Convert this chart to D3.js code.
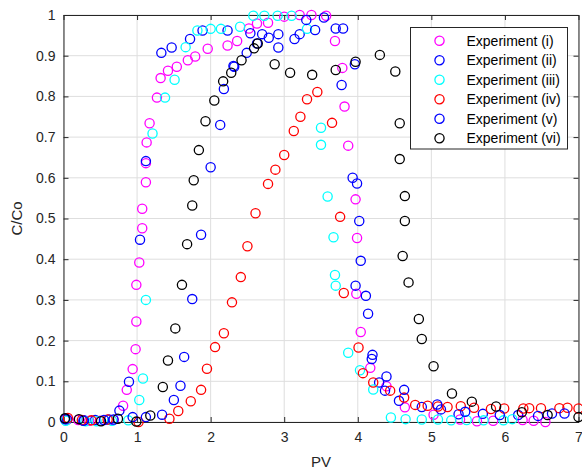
<!DOCTYPE html>
<html>
<head>
<meta charset="utf-8">
<script src="https://cdn.jsdelivr.net/npm/d3@7"></script>
<style>
  html, body { margin: 0; padding: 0; background: #fff; }
  svg { display: block; font-family: "Liberation Sans", Arial, Helvetica, sans-serif; }
</style>
</head>
<body>
<svg id="chart" width="582" height="470"></svg>
<script>
// Breakthrough / elution curves: C/Co against pore volumes (PV)
const xTicks = [0, 1, 2, 3, 4, 5, 6, 7];
const yTicks = [0, 0.1, 0.2, 0.3, 0.4, 0.5, 0.6, 0.7, 0.8, 0.9, 1];
const yTickLabels = ["0", "0.1", "0.2", "0.3", "0.4", "0.5", "0.6", "0.7", "0.8", "0.9", "1"];

const seriesNames = ["Experiment (i)", "Experiment (ii)", "Experiment (iii)",
                     "Experiment (iv)", "Experiment (v)", "Experiment (vi)"];
const seriesColors = ["#ff00ff", "#0000ff", "#00ffff", "#ff0000", "#0000ff", "#000000"];

// each point: [PV, C/Co]
const expI = [
  [0.04, 0.008], [0.2, 0.005], [0.35, 0.003], [0.5, 0.003], [0.68, 0.005],
  [0.81, 0.040], [0.86, 0.079], [0.94, 0.130], [0.98, 0.179], [0.99, 0.247],
  [0.99, 0.337], [1.03, 0.392], [1.07, 0.476], [1.07, 0.524], [1.12, 0.589],
  [1.12, 0.636], [1.13, 0.687], [1.17, 0.734], [1.27, 0.797], [1.32, 0.845],
  [1.42, 0.863], [1.54, 0.873], [1.69, 0.889], [1.79, 0.898], [1.96, 0.917],
  [2.23, 0.925], [2.36, 0.936], [2.52, 0.967], [2.63, 0.979], [2.78, 0.981],
  [3.00, 0.996], [3.21, 1.0], [3.37, 1.0], [3.57, 0.998], [3.69, 0.936],
  [3.79, 0.870], [3.82, 0.775], [3.87, 0.679], [3.97, 0.547], [3.99, 0.452],
  [3.98, 0.315], [4.04, 0.221], [4.17, 0.133], [4.39, 0.088], [4.64, 0.036],
  [5.03, 0.018], [5.39, 0.006], [5.62, 0.002], [5.84, 0.003], [6.24, 0.005],
  [6.39, 0.003], [6.55, 0.0]
];
const expII = [
  [0.05, 0.006], [0.28, 0.004], [0.43, 0.005], [0.62, 0.006],
  [0.76, 0.028], [0.89, 0.099], [1.04, 0.448], [1.12, 0.641], [1.33, 0.907],
  [1.47, 0.920], [1.72, 0.941], [1.89, 0.962], [2.23, 0.962], [2.54, 0.955],
  [2.70, 0.953], [2.92, 0.953], [3.21, 0.953], [3.54, 0.994], [3.80, 0.967],
  [3.78, 0.828], [3.93, 0.600], [4.02, 0.494], [3.97, 0.335], [4.14, 0.266],
  [4.19, 0.155], [4.29, 0.097], [4.37, 0.077], [4.56, 0.052], [4.87, 0.037],
  [5.13, 0.031], [5.37, 0.019], [5.70, 0.020], [6.18, 0.017], [6.64, 0.021]
];
const expIII = [
  [0.03, 0.003], [0.3, 0.002], [0.45, 0.002], [0.66, 0.003], [0.88, 0.004],
  [1.03, 0.054], [1.08, 0.107], [1.12, 0.300], [1.21, 0.709], [1.38, 0.797],
  [1.51, 0.841], [1.66, 0.921], [1.82, 0.962], [2.00, 0.966], [2.14, 0.966],
  [2.40, 0.971], [2.58, 0.998], [2.73, 0.998], [2.91, 0.998], [3.10, 0.998],
  [3.31, 0.966], [3.50, 0.723], [3.50, 0.681], [3.59, 0.554], [3.67, 0.454],
  [3.69, 0.361], [3.70, 0.335], [3.87, 0.170], [4.03, 0.127], [4.21, 0.080],
  [4.45, 0.011], [4.65, 0.007], [4.87, 0.006], [5.09, 0.006], [5.27, 0.004],
  [5.48, 0.005], [5.71, 0.004], [5.98, 0.004], [6.10, 0.007]
];
const expIV = [
  [0.06, 0.010], [0.25, 0.005], [0.38, 0.004], [0.6, 0.006], [1.02, 0.0],
  [1.44, 0.008], [1.56, 0.027], [1.73, 0.051], [1.87, 0.079], [1.95, 0.131],
  [2.06, 0.184], [2.18, 0.218], [2.29, 0.294], [2.41, 0.356], [2.50, 0.432],
  [2.61, 0.513], [2.78, 0.585], [2.88, 0.620], [3.00, 0.656], [3.13, 0.715],
  [3.22, 0.750], [3.31, 0.793], [3.45, 0.811], [3.65, 0.735], [3.76, 0.504],
  [3.81, 0.317], [4.01, 0.183], [4.07, 0.120], [4.21, 0.097], [4.44, 0.077],
  [4.63, 0.060], [4.78, 0.042], [4.95, 0.040], [5.09, 0.038], [5.22, 0.037],
  [5.40, 0.039], [5.58, 0.035], [5.81, 0.032], [5.99, 0.033], [6.25, 0.033],
  [6.33, 0.034], [6.49, 0.034], [6.74, 0.034], [6.85, 0.035], [7.0, 0.033]
];
const expV = [
  [0.02, 0.007], [0.27, 0.003], [0.55, 0.005], [0.68, 0.006], [0.94, 0.012],
  [1.12, 0.012], [1.34, 0.018], [1.50, 0.054], [1.59, 0.089], [1.64, 0.160],
  [1.75, 0.302], [1.87, 0.460], [2.00, 0.626], [2.13, 0.730], [2.18, 0.818],
  [2.31, 0.875], [2.32, 0.873], [2.49, 0.907], [2.63, 0.930], [2.79, 0.944],
  [2.92, 0.920], [3.14, 0.941], [3.30, 0.988], [3.42, 0.963], [3.70, 0.967],
  [3.96, 0.879], [3.99, 0.586], [4.04, 0.396], [4.11, 0.310], [4.20, 0.165],
  [4.39, 0.112], [4.63, 0.079], [5.08, 0.043], [5.46, 0.025], [5.93, 0.017],
  [6.45, 0.015], [6.81, 0.021]
];
const expVI = [
  [0.02, 0.009], [0.21, 0.007], [0.51, 0.002], [0.74, 0.008], [0.99, 0.001],
  [1.18, 0.016], [1.35, 0.086], [1.42, 0.151], [1.52, 0.230], [1.61, 0.337],
  [1.68, 0.437], [1.75, 0.532], [1.77, 0.594], [1.84, 0.668], [1.93, 0.739],
  [2.05, 0.790], [2.17, 0.837], [2.28, 0.858], [2.42, 0.889], [2.59, 0.918],
  [2.64, 0.930], [2.87, 0.879], [3.08, 0.858], [3.38, 0.853], [3.70, 0.865],
  [3.97, 0.885], [4.30, 0.902], [4.51, 0.861], [4.57, 0.734], [4.57, 0.646],
  [4.64, 0.555], [4.64, 0.494], [4.61, 0.408], [4.69, 0.343], [4.83, 0.253],
  [4.87, 0.204], [5.03, 0.137], [5.28, 0.070], [5.55, 0.050], [5.88, 0.038],
  [6.23, 0.024], [6.58, 0.017], [7.0, 0.012]
];
const seriesData = [expI, expII, expIII, expIV, expV, expVI];

const svg = d3.select("#chart");
const plotLeft = 63.5, plotRight = 578.5, plotTop = 15, plotBottom = 422;
const x = d3.scaleLinear().domain([0, 7]).range([plotLeft, plotRight]);
const y = d3.scaleLinear().domain([0, 1]).range([plotBottom, plotTop]);
const axisColor = "#262626";

// grid
const grid = svg.append("g");
grid.selectAll("line.gx").data(xTicks).join("line")
  .attr("x1", d => x(d)).attr("x2", d => x(d))
  .attr("y1", plotTop).attr("y2", plotBottom)
  .attr("stroke", "#dedede").attr("stroke-width", 1);
grid.selectAll("line.gy").data(yTicks).join("line")
  .attr("x1", plotLeft).attr("x2", plotRight)
  .attr("y1", d => y(d)).attr("y2", d => y(d))
  .attr("stroke", "#dedede").attr("stroke-width", 1);

// axes with inward ticks on all four sides
function styleAxis(g) {
  g.select(".domain").attr("stroke", axisColor).attr("stroke-width", 1);
  g.selectAll(".tick line").attr("stroke", axisColor).attr("stroke-width", 1);
  g.selectAll(".tick text").attr("fill", axisColor)
    .attr("font-size", 14).attr("font-family", "Liberation Sans, Arial, sans-serif");
}
svg.append("g").attr("transform", `translate(0,${plotBottom})`)
  .call(d3.axisBottom(x).tickValues(xTicks).tickFormat(d => String(d))
    .tickSize(-5).tickPadding(10).tickSizeOuter(0))
  .call(styleAxis);
svg.append("g").attr("transform", `translate(0,${plotTop})`)
  .call(d3.axisTop(x).tickValues(xTicks).tickFormat("").tickSize(-5).tickSizeOuter(0))
  .call(styleAxis);
svg.append("g").attr("transform", `translate(${plotLeft},0)`)
  .call(d3.axisLeft(y).tickValues(yTicks).tickFormat((d, i) => yTickLabels[i])
    .tickSize(-5).tickPadding(8).tickSizeOuter(0))
  .call(styleAxis);
svg.append("g").attr("transform", `translate(${plotRight},0)`)
  .call(d3.axisRight(y).tickValues(yTicks).tickFormat("").tickSize(-5).tickSizeOuter(0))
  .call(styleAxis);

// markers
const plot = svg.append("g");
seriesData.forEach((pts, i) => {
  plot.append("g").selectAll("circle").data(pts).join("circle")
    .attr("cx", d => x(d[0])).attr("cy", d => y(d[1])).attr("r", 4.6)
    .attr("fill", "none").attr("stroke", seriesColors[i]).attr("stroke-width", 1.3);
});

// axis titles
svg.append("text").attr("x", (plotLeft + plotRight) / 2).attr("y", 467)
  .attr("text-anchor", "middle").attr("font-size", 15).attr("fill", axisColor)
  .text("PV");
svg.append("text").attr("transform", `translate(22,${(plotTop + plotBottom) / 2}) rotate(-90)`)
  .attr("text-anchor", "middle").attr("font-size", 15).attr("fill", axisColor)
  .text("C/Co");

// legend
const lg = svg.append("g").attr("transform", "translate(410.5,27.5)");
lg.append("rect").attr("width", 157).attr("height", 121.5)
  .attr("fill", "#fff").attr("stroke", axisColor).attr("stroke-width", 1);
const rows = lg.selectAll("g.row").data(seriesNames).join("g")
  .attr("transform", (d, i) => `translate(0,${13.3 + i * 19.5})`);
rows.append("circle").attr("cx", 29).attr("cy", 0).attr("r", 4.6)
  .attr("fill", "none").attr("stroke", (d, i) => seriesColors[i]).attr("stroke-width", 1.3);
rows.append("text").attr("x", 56).attr("y", 5).attr("font-size", 14).attr("fill", "#000")
  .text(d => d);
</script>
</body>
</html>
